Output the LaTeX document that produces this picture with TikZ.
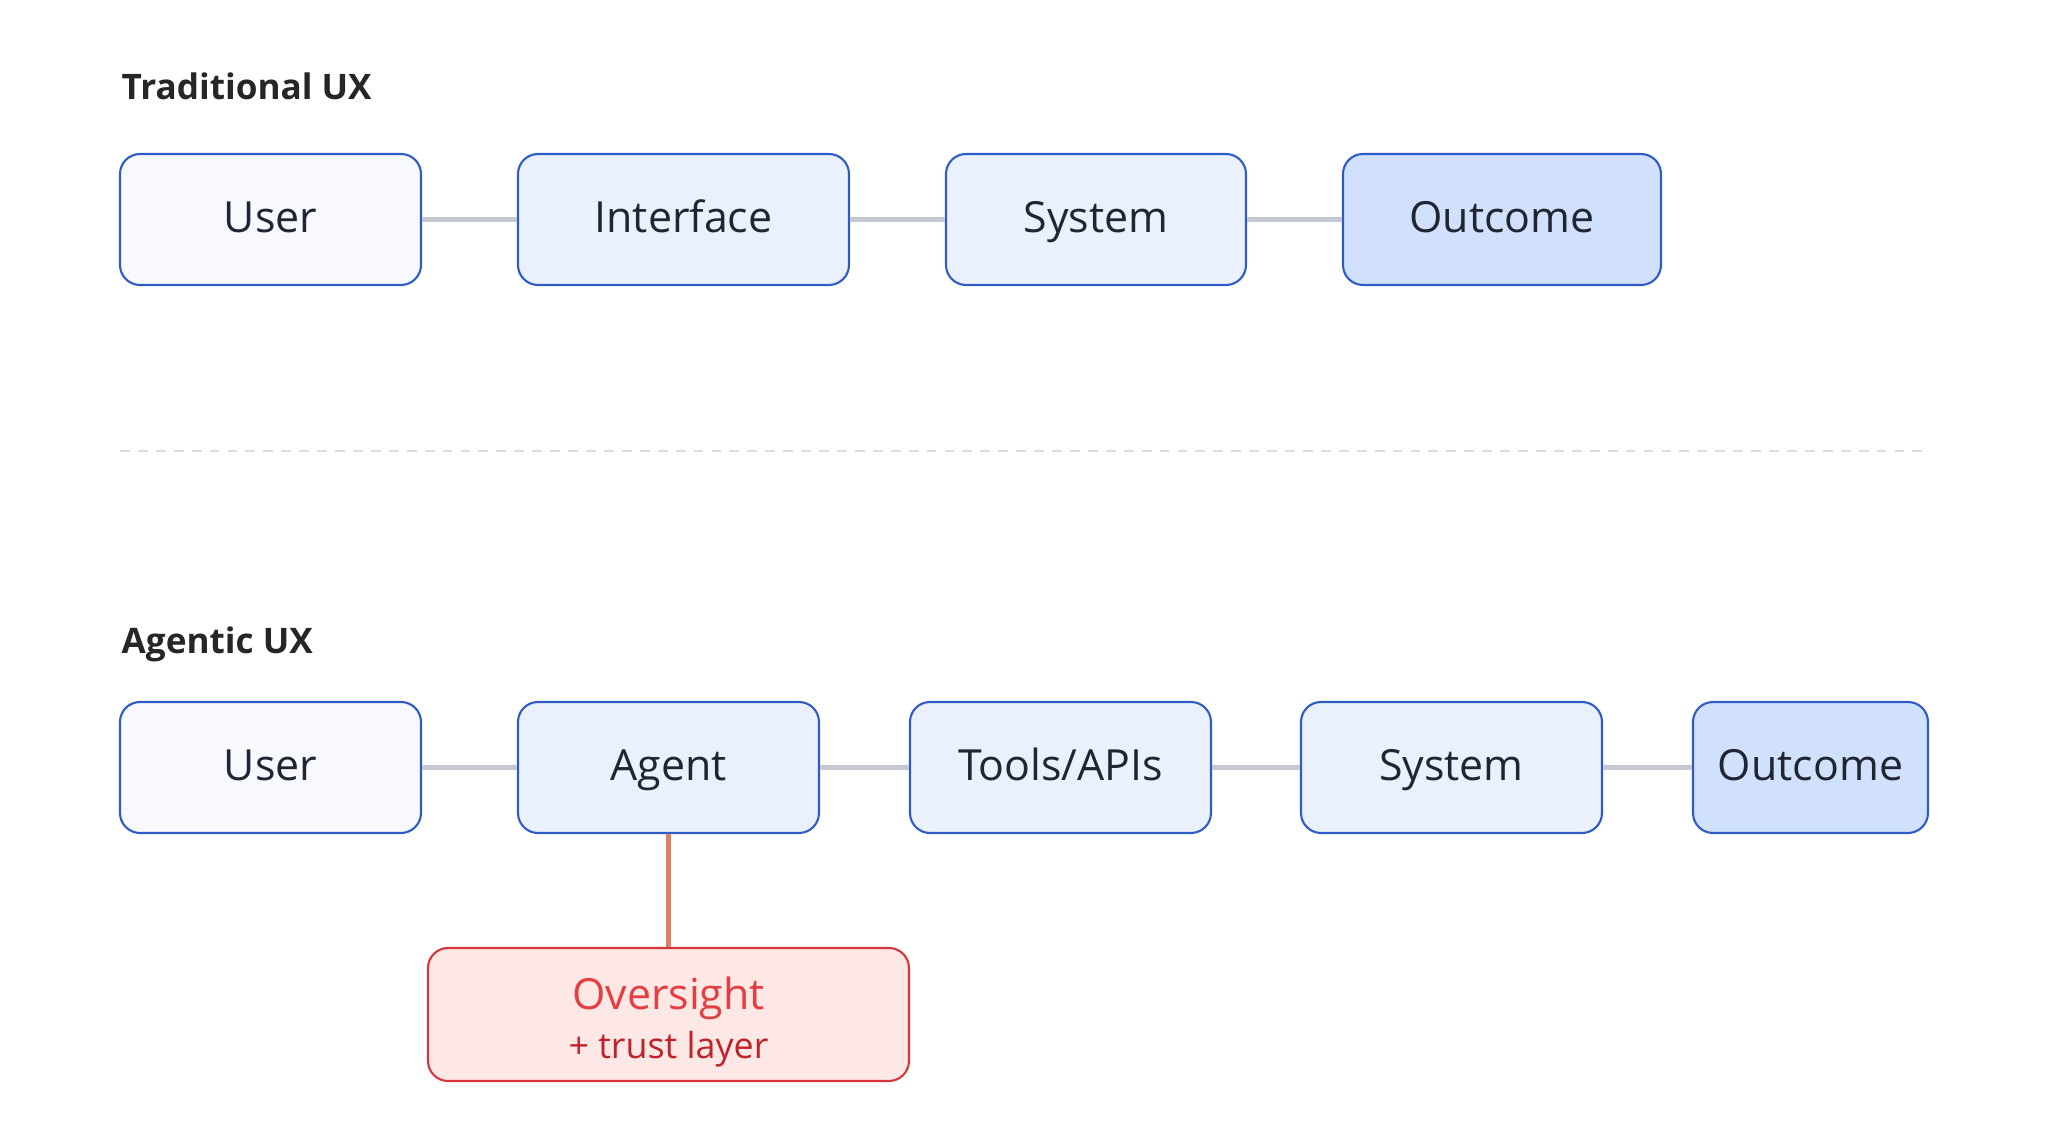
\documentclass[tikz,border=0pt]{standalone}
\usepackage{fontspec}
\setmainfont{Open Sans}

\definecolor{stageborder}{HTML}{2F5BC6}
\definecolor{stagetext}{HTML}{1F2533}
\definecolor{userfill}{HTML}{F7F9FE}
\definecolor{stagefill}{HTML}{EAF1FD}
\definecolor{outcomefill}{HTML}{D1E0FC}
\definecolor{linkgray}{HTML}{C6C9D1}
\definecolor{dashgray}{HTML}{D9DCE1}
\definecolor{headtext}{HTML}{262626}
\definecolor{guardborder}{HTML}{D8353D}
\definecolor{guardfill}{HTML}{FDE8E6}
\definecolor{guardtitle}{HTML}{E53E40}
\definecolor{guardsub}{HTML}{C0222B}
\definecolor{guardline}{HTML}{DE7F62}

\begin{document}
\begin{tikzpicture}[
    stepbox/.style={
        draw=stageborder,
        line width=0.6pt,
        rounded corners=0.2cm,
        fill=stagefill,
        text=stagetext,
        font=\fontsize{12.2}{14}\selectfont,
        minimum height=1.31cm,
        text height=9pt,
        text depth=1.6pt,
        inner sep=0pt
    },
    userbox/.style={stepbox, fill=userfill},
    outcomebox/.style={stepbox, fill=outcomefill},
    oversightbox/.style={
        draw=guardborder,
        line width=0.6pt,
        rounded corners=0.2cm,
        fill=guardfill,
        text=guardtitle,
        align=center,
        font=\fontsize{12.2}{14}\selectfont,
        minimum width=4.81cm,
        minimum height=1.33cm,
        inner sep=0pt
    },
    heading/.style={anchor=base west, inner sep=0pt, text=headtext, font=\bfseries\fontsize{10}{12}\selectfont},
    link/.style={draw=linkgray, line width=1.2pt},
    guardlink/.style={draw=guardline, line width=1.3pt}
]
\useasboundingbox (0,0) rectangle (20.48,-11.44);

% traditional flow
\node[heading] (trad_title) at (1.21,-1.00) {Traditional UX};

\node[userbox, minimum width=3.01cm] (trad_user) at (2.705,-2.195) {User};
\node[stepbox, minimum width=3.31cm] (trad_interface) at (6.835,-2.195) {Interface};
\node[stepbox, minimum width=3.00cm] (trad_system) at (10.96,-2.195) {System};
\node[outcomebox, minimum width=3.18cm] (trad_outcome) at (15.02,-2.195) {Outcome};

\draw[link] (trad_user) -- (trad_interface);
\draw[link] (trad_interface) -- (trad_system);
\draw[link] (trad_system) -- (trad_outcome);

% separator
\coordinate (sep_left) at (1.20,-4.51);
\coordinate (sep_right) at (19.30,-4.51);
\draw[dashgray, line width=0.5pt, dash pattern=on 2.8pt off 2.3pt] (sep_left) -- (sep_right);

% agentic flow
\node[heading] (agent_title) at (1.21,-6.54) {Agentic UX};

\node[userbox, minimum width=3.01cm] (ag_user) at (2.705,-7.675) {User};
\node[stepbox, minimum width=3.01cm] (ag_agent) at (6.685,-7.675) {Agent};
\node[stepbox, minimum width=3.01cm] (ag_tools) at (10.605,-7.675) {Tools/APIs};
\node[stepbox, minimum width=3.01cm] (ag_system) at (14.515,-7.675) {System};
\node[outcomebox, minimum width=2.35cm] (ag_outcome) at (18.105,-7.675) {Outcome};

\node[oversightbox] (oversight) at (6.685,-10.145) {\rule{0pt}{13.6pt}Oversight\\[0pt]{\color{guardsub}\fontsize{10.2}{12}\selectfont + trust layer}};

\draw[link] (ag_user) -- (ag_agent);
\draw[link] (ag_agent) -- (ag_tools);
\draw[link] (ag_tools) -- (ag_system);
\draw[link] (ag_system) -- (ag_outcome);
\draw[guardlink] (ag_agent) -- (oversight);

\end{tikzpicture}
\end{document}
